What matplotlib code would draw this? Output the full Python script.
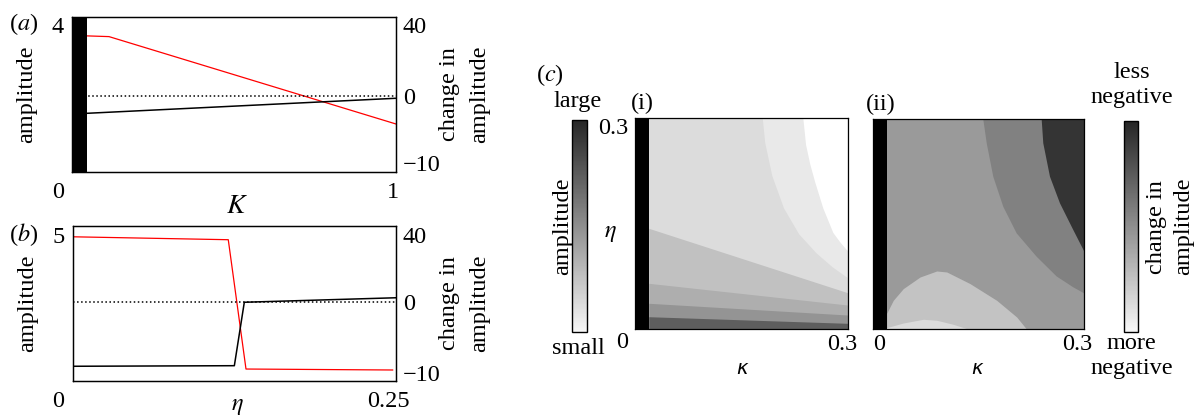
import numpy as np
import matplotlib
matplotlib.use("Agg")
import matplotlib.pyplot as plt
from matplotlib import transforms
from matplotlib.colors import LinearSegmentedColormap, Normalize
from matplotlib.cm import ScalarMappable

# --- data ---

# (a) amplitude and change in amplitude against K
K_amp = [0.046, 0.115, 1.0]
amp_a = [3.70, 3.68, 1.31]
K_change = [0.046, 1.0]
change_a = [-2.58, -0.33]
bar_a = 0.046          # region with no oscillation (black bar)

# (b) amplitude and change in amplitude against eta
eta_amp = [0.0, 0.1203, 0.134, 0.2474]
amp_b = [4.94, 4.84, 0.41, 0.377]
eta_change = [0.0, 0.125, 0.1327, 0.25]
change_b = [-9.06, -8.98, -0.08, 2.36]

# (c)(i) amplitude contours: straight band edges at kappa = 0.019 and 0.3
band_k = [0.019, 0.3]
band_edge1 = [0.0179, 0.0085]
band_edge2 = [0.037, 0.0203]
band_edge3 = [0.0654, 0.0345]
band_edge4 = [0.1436, 0.052]
amp_curve1_k = [0.180, 0.1835, 0.1935, 0.210, 0.2315, 0.256, 0.279, 0.3]
amp_curve1_eta = [0.3, 0.265, 0.218, 0.172, 0.135, 0.108, 0.088, 0.073]
amp_curve2_k = [0.2373, 0.2412, 0.247, 0.2538, 0.2655, 0.2797, 0.290, 0.3]
amp_curve2_eta = [0.3, 0.262, 0.235, 0.210, 0.172, 0.137, 0.123, 0.1113]
bar_c1 = 0.019

# (c)(ii) change in amplitude contours
chg_curveA_k = [0.157, 0.1619, 0.1712, 0.1854, 0.2044, 0.2328, 0.2612, 0.2848, 0.3]
chg_curveA_eta = [0.3, 0.2657, 0.218, 0.1751, 0.1371, 0.1037, 0.0755, 0.060, 0.0515]
chg_curveB_k = [0.2399, 0.2422, 0.2517, 0.2659, 0.2848, 0.3]
chg_curveB_eta = [0.3, 0.2657, 0.218, 0.18, 0.1419, 0.1119]
hump1_k = [0.0199, 0.0292, 0.0434, 0.0672, 0.0909, 0.1051, 0.1381, 0.176, 0.2044, 0.2186]
hump1_eta = [0.0229, 0.0414, 0.0581, 0.0747, 0.0833, 0.0819, 0.0653, 0.0414, 0.0176, 0.0]
hump2_k = [0.0199, 0.0434, 0.0718, 0.0909, 0.1144, 0.1335, 0.135]
hump2_eta = [0.0024, 0.009, 0.0143, 0.0129, 0.0071, 0.001, 0.0]
bar_c2 = 0.02

# grey levels of the contour regions
greys_c1 = ["#5e5e5e", "#949494", "#aeaeae", "#c1c1c1", "#dcdcdc", "#e9e9e9", "#ffffff"]
greys_c2 = ["#dcdcdc", "#c3c3c3", "#9a9a9a", "#818181", "#343434"]

plt.rcParams["font.family"] = ["Liberation Serif", "DejaVu Serif"]
plt.rcParams["mathtext.fontset"] = "stix"
plt.rcParams["font.size"] = 17.5
plt.rcParams["axes.linewidth"] = 0.9

W, H = 1199, 420
fig = plt.figure(figsize=(W / 100, H / 100), dpi=100)


def box(left, top, right, bottom):
    return [left / W, 1 - bottom / H, (right - left) / W, (bottom - top) / H]


def nudge(label, dx=0, dy=0):
    label.set_transform(label.get_transform()
                        + transforms.ScaledTranslation(dx / 100, -dy / 100, fig.dpi_scale_trans))


def split_scale(ax, zero, pos, neg):
    # 0..40 and -10..0 take different lengths on the right axis
    fwd = lambda y: np.where(np.asarray(y) >= 0, np.asarray(y) / 40 * pos, np.asarray(y) / 10 * neg)
    inv = lambda f: np.where(np.asarray(f) >= 0, np.asarray(f) / pos * 40, np.asarray(f) / neg * 10)
    ax.set_yscale("function", functions=(fwd, inv))
    ax.set_ylim(float(inv(-zero)), float(inv(1 - zero)))


def line_panel(rect, x_amp, amp, x_chg, chg, xmax, amp_top, amp_tick, scale, xlabels, xnudge):
    ax = fig.add_axes(rect)
    ax2 = ax.twinx()
    ax.plot(x_amp, amp, color="red", lw=0.9)
    ax.set_xlim(0, xmax)
    ax.set_ylim(0, amp_top)
    split_scale(ax2, *scale)
    ax2.plot(x_chg, chg, color="black", lw=1.1)
    ax2.axhline(0, color="black", lw=1.1, ls=":")
    ax.set_xticks([0, xmax], xlabels)
    ax.set_yticks([amp_tick], [str(amp_tick)])
    ax2.set_yticks([40, 0, -10], ["40", "0", "\u221210"])
    ax.tick_params(axis="x", length=0, pad=7)
    ax.tick_params(axis="y", length=0, pad=6)
    ax2.tick_params(axis="y", length=0, pad=5)
    for lab, dx in zip(ax.get_xticklabels(), xnudge):
        nudge(lab, dx)
    ax.set_ylabel("amplitude", va="center")
    ax.yaxis.set_label_coords(-0.14, 0.5)
    ax2.set_ylabel("change in\namplitude", va="center", linespacing=1.6)
    ax2.yaxis.set_label_coords(1.212, 0.5)
    return ax, ax2


# (a)
ax_a, ax_a2 = line_panel(box(71.7, 16.7, 396, 172.3), K_amp, amp_a, K_change, change_a,
                         1, 4.22, 4, (0.49, 0.458, 0.43), ["0", "1"], [-14, -3])
ax_a2.axvspan(0, bar_a, color="black", lw=0, zorder=5)
ax_a.set_xlabel("$K$", fontsize=20, va="center")
ax_a.xaxis.set_label_coords(0.51, -0.223)

# (b)
ax_b, ax_b2 = line_panel(box(72.7, 225.7, 396, 381), eta_amp, amp_b, eta_change, change_b,
                         0.25, 5.32, 5, (0.5107, 0.429, 0.459), ["0", "0.25"], [-15, -8])
ax_b.set_xlabel(r"$\eta$", va="center")
ax_b.xaxis.set_label_coords(0.508, -0.163)

fig.text(9 / W, 1 - 24 / H, "($a$)", ha="left", va="center")
fig.text(9 / W, 1 - 235 / H, "($b$)", ha="left", va="center")
fig.text(536 / W, 1 - 75 / H, "($c$)", ha="left", va="center")

# (c)(i) amplitude
ax_c1 = fig.add_axes(box(635.3, 118.3, 847.7, 329.3))
ax_c1.fill_between(band_k, 0, 0.3, color=greys_c1[4], lw=0)
ax_c1.fill_between(band_k, 0, band_edge4, color=greys_c1[3], lw=0)
ax_c1.fill_between(band_k, 0, band_edge3, color=greys_c1[2], lw=0)
ax_c1.fill_between(band_k, 0, band_edge2, color=greys_c1[1], lw=0)
ax_c1.fill_between(band_k, 0, band_edge1, color=greys_c1[0], lw=0)
ax_c1.fill(amp_curve1_k + [0.3], amp_curve1_eta + [0.3], color=greys_c1[5], lw=0)
ax_c1.fill(amp_curve2_k + [0.3], amp_curve2_eta + [0.3], color=greys_c1[6], lw=0)
ax_c1.axvspan(0, bar_c1, color="black", lw=0)
ax_c1.set_xlim(0, 0.3)
ax_c1.set_ylim(0, 0.3)
ax_c1.set_xticks([0.3], ["0.3"])
ax_c1.set_yticks([0, 0.3], ["0", "0.3"])
ax_c1.tick_params(length=0)
ax_c1.tick_params(axis="x", pad=3.5)
ax_c1.tick_params(axis="y", pad=5)
nudge(ax_c1.get_xticklabels()[0], -5)
for lab in ax_c1.get_yticklabels():
    lab.set_va("top")
nudge(ax_c1.get_yticklabels()[0], 0, 3)
ax_c1.set_ylabel(r"$\eta$", rotation=0, ha="center", va="center")
ax_c1.yaxis.set_label_coords(-0.119, 0.456)
ax_c1.set_xlabel("\u03ba", family="DejaVu Sans", style="italic", fontsize=14, va="center")
ax_c1.xaxis.set_label_coords(0.501, -0.186)
ax_c1.text(-0.02, 1.0725, "(i)", transform=ax_c1.transAxes, ha="left", va="center")

# (c)(ii) change in amplitude
ax_c2 = fig.add_axes(box(872.7, 119.3, 1084, 329.3))
ax_c2.fill_between(band_k, 0, 0.3, color=greys_c2[2], lw=0)
ax_c2.fill(chg_curveA_k + [0.3], chg_curveA_eta + [0.3], color=greys_c2[3], lw=0)
ax_c2.fill(chg_curveB_k + [0.3], chg_curveB_eta + [0.3], color=greys_c2[4], lw=0)
ax_c2.fill_between(hump1_k, 0, hump1_eta, color=greys_c2[1], lw=0)
ax_c2.fill_between(hump2_k, 0, hump2_eta, color=greys_c2[0], lw=0)
ax_c2.axvspan(0, bar_c2, color="black", lw=0)
ax_c2.set_xlim(0, 0.3)
ax_c2.set_ylim(0, 0.3)
ax_c2.set_xticks([0, 0.3], ["0", "0.3"])
ax_c2.set_yticks([])
ax_c2.tick_params(length=0, pad=3.5)
nudge(ax_c2.get_xticklabels()[0], 6)
nudge(ax_c2.get_xticklabels()[1], -6.5)
ax_c2.set_xlabel("\u03ba", family="DejaVu Sans", style="italic", fontsize=14, va="center")
ax_c2.xaxis.set_label_coords(0.492, -0.186)
ax_c2.text(-0.03, 1.0725, "(ii)", transform=ax_c2.transAxes, ha="left", va="center")

# colour bars
cmap = LinearSegmentedColormap.from_list("bar_greys", ["#f7f7f7", "#262626"])
for rect in [box(572.3, 120, 586.7, 331.7), box(1124.3, 121, 1138.3, 331.7)]:
    cax = fig.add_axes(rect)
    cb = fig.colorbar(ScalarMappable(norm=Normalize(0, 1), cmap=cmap), cax=cax)
    cb.set_ticks([])
    cb.outline.set_linewidth(1.0)

fig.text(578 / W, 1 - 101 / H, "large", ha="center", va="center")
fig.text(578 / W, 1 - 348 / H, "small", ha="center", va="center")
fig.text(563 / W, 1 - 226 / H, "amplitude", rotation=90, ha="center", va="center")
fig.text(1131.7 / W, 1 - 85 / H, "less\nnegative", ha="center", va="center", linespacing=1.2)
fig.text(1131.7 / W, 1 - 356 / H, "more\nnegative", ha="center", va="center", linespacing=1.22)
fig.text(1170 / W, 1 - 226.7 / H, "change in\namplitude", rotation=90, ha="center", va="center",
         linespacing=1.4)

fig.savefig("out.png", dpi=100)
